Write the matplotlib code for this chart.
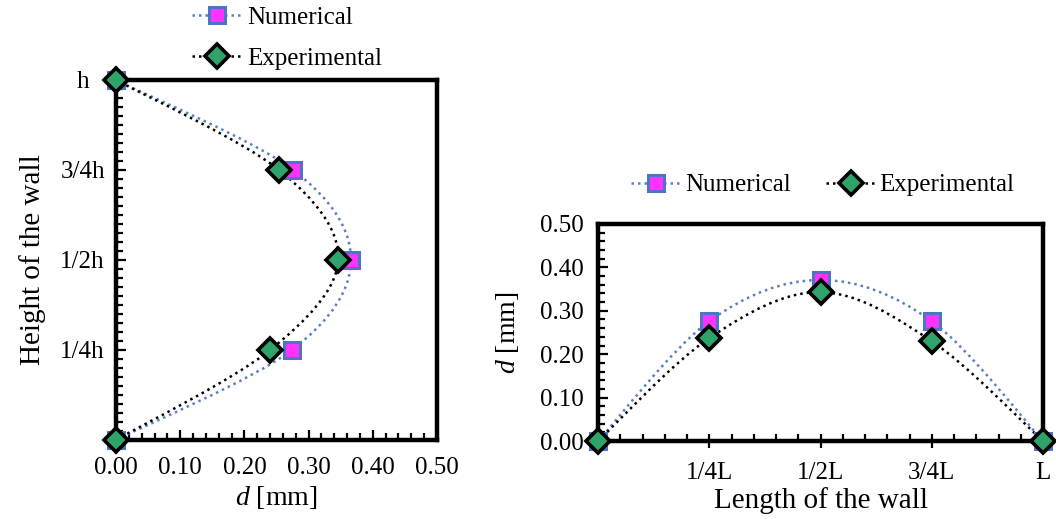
import numpy as np
import matplotlib
matplotlib.use("Agg")
import matplotlib.pyplot as plt
from matplotlib.path import Path
from matplotlib.patches import PathPatch
from matplotlib.ticker import MultipleLocator, FixedLocator, FuncFormatter

plt.rcParams['font.family'] = ['Liberation Serif', 'DejaVu Serif']
plt.rcParams['mathtext.fontset'] = 'custom'
plt.rcParams['mathtext.rm'] = 'Liberation Serif'
plt.rcParams['mathtext.it'] = 'Liberation Serif:italic'

# ---- data ----
height_pos = [0.0, 0.25, 0.5, 0.75, 1.0]
height_labels = ["", "1/4h", "1/2h", "3/4h", "h"]
num_height = [0.0, 0.274, 0.366, 0.276, 0.0]
exp_height = [0.0, 0.240, 0.346, 0.254, 0.0]

length_pos = [0.0, 0.25, 0.5, 0.75, 1.0]
length_labels = ["", "1/4L", "1/2L", "3/4L", "L"]
num_length = [0.0, 0.276, 0.371, 0.276, 0.0]
exp_length = [0.0, 0.237, 0.343, 0.230, 0.0]

NUM_LINE = '#5a7fc0'
NUM_FACE = '#ff33ff'
NUM_EDGE = '#4f74c4'
EXP_FACE = '#2ea36a'

def smooth_path(xs, ys):
    pts = np.column_stack([xs, ys]).astype(float)
    n = len(pts)
    verts = [pts[0]]
    codes = [Path.MOVETO]
    for i in range(n - 1):
        p0 = pts[i - 1] if i > 0 else pts[i]
        p1 = pts[i]
        p2 = pts[i + 1]
        p3 = pts[i + 2] if i + 2 < n else pts[i + 1]
        c1 = p1 + (p2 - p0) / 6.0
        c2 = p2 - (p3 - p1) / 6.0
        verts += [c1, c2, p2]
        codes += [Path.CURVE4] * 3
    return Path(verts, codes)

fig = plt.figure(figsize=(10.56, 5.19), dpi=100)
ax1 = fig.add_axes([116/1056, 1-440/519, (437-116)/1056, (440-80)/519])
ax2 = fig.add_axes([598/1056, 1-441/519, (1043-598)/1056, (441-224)/519])

dots = (0, (1, 1.6))
TICK_FS = 18
fmt2 = FuncFormatter(lambda v, p: f"{v:.2f}")

def style_axes(ax):
    for s in ax.spines.values():
        s.set_linewidth(3.2)
        s.set_color('black')
    ax.tick_params(which='both', labelsize=TICK_FS, width=1.6, color='black',
                   top=False, right=False)

# ---- left chart ----
ax1.add_patch(PathPatch(smooth_path(num_height, height_pos), fill=False,
                        edgecolor=NUM_LINE, lw=1.8, ls=dots, zorder=2, clip_on=False))
ax1.add_patch(PathPatch(smooth_path(exp_height, height_pos), fill=False,
                        edgecolor='black', lw=1.8, ls=dots, zorder=2, clip_on=False))
ax1.plot(num_height, height_pos, ls='none', marker='s', ms=12, mfc=NUM_FACE,
         mec=NUM_EDGE, mew=2.2, clip_on=False, zorder=4)
ax1.plot(exp_height, height_pos, ls='none', marker='D', ms=12, mfc=EXP_FACE,
         mec='black', mew=2.6, clip_on=False, zorder=5)
ax1.set_xlim(0, 0.5)
ax1.set_ylim(0, 1)
ax1.xaxis.set_major_locator(MultipleLocator(0.1))
ax1.xaxis.set_minor_locator(MultipleLocator(0.02))
ax1.xaxis.set_major_formatter(fmt2)
ax1.yaxis.set_major_locator(FixedLocator(height_pos))
ax1.set_yticklabels(height_labels, ha='center')
ax1.yaxis.set_minor_locator(MultipleLocator(0.025))
style_axes(ax1)
ax1.tick_params(axis='x', which='major', direction='in', length=7, pad=12)
ax1.tick_params(axis='x', which='minor', direction='in', length=5)
ax1.tick_params(axis='y', which='major', direction='in', length=7, pad=24)
ax1.tick_params(axis='y', which='minor', direction='in', length=5)
ax1.set_xlabel(r'$\it{d}$ [mm]', fontsize=20, labelpad=4)
ax1.set_ylabel('Height of the wall', fontsize=21, labelpad=10)

h1 = ax1.plot([], [], color=NUM_LINE, lw=1.8, ls=dots, marker='s', ms=12,
              mfc=NUM_FACE, mec=NUM_EDGE, mew=2.2, label='Numerical')[0]
h2 = ax1.plot([], [], color='black', lw=1.8, ls=dots, marker='D', ms=12,
              mfc=EXP_FACE, mec='black', mew=2.6, label='Experimental')[0]
fig.legend(handles=[h1, h2], loc='center', bbox_to_anchor=(287/1056, 1-38/519),
           ncol=1, frameon=False, fontsize=18, handlelength=2.0, handletextpad=0.2,
           labelspacing=0.75, borderpad=0)

# ---- right chart ----
ax2.add_patch(PathPatch(smooth_path(length_pos, num_length), fill=False,
                        edgecolor=NUM_LINE, lw=1.8, ls=dots, zorder=2, clip_on=False))
ax2.add_patch(PathPatch(smooth_path(length_pos, exp_length), fill=False,
                        edgecolor='black', lw=1.8, ls=dots, zorder=2, clip_on=False))
ax2.plot(length_pos, num_length, ls='none', marker='s', ms=12, mfc=NUM_FACE,
         mec=NUM_EDGE, mew=2.2, clip_on=False, zorder=4)
ax2.plot(length_pos, exp_length, ls='none', marker='D', ms=12, mfc=EXP_FACE,
         mec='black', mew=2.6, clip_on=False, zorder=5)
ax2.set_xlim(0, 1)
ax2.set_ylim(0, 0.5)
ax2.xaxis.set_major_locator(FixedLocator(length_pos))
ax2.set_xticklabels(length_labels)
ax2.xaxis.set_minor_locator(MultipleLocator(0.05))
ax2.yaxis.set_major_locator(MultipleLocator(0.1))
ax2.yaxis.set_minor_locator(MultipleLocator(0.02))
ax2.yaxis.set_major_formatter(fmt2)
style_axes(ax2)
ax2.tick_params(axis='x', which='major', direction='inout', length=10, pad=10)
ax2.tick_params(axis='x', which='minor', direction='in', length=5)
ax2.tick_params(axis='y', which='major', direction='in', length=7, pad=10)
ax2.tick_params(axis='y', which='minor', direction='in', length=5)
ax2.set_xlabel('Length of the wall', fontsize=21, labelpad=2)
ax2.set_ylabel(r'$\it{d}$ [mm]', fontsize=20, labelpad=14)

fig.legend(handles=[h1, h2], loc='center', bbox_to_anchor=(823/1056, 1-185/519),
           ncol=2, frameon=False, fontsize=18, handlelength=2.0, handletextpad=0.15,
           columnspacing=1.4, borderpad=0)

fig.savefig('out.png', dpi=100)
